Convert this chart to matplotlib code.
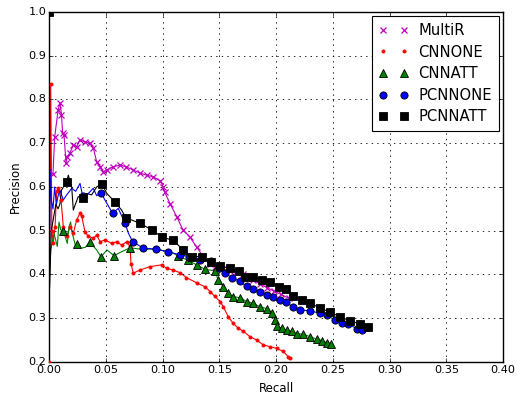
import matplotlib
matplotlib.use("Agg")
import matplotlib.pyplot as plt

plt.style.use("classic")
plt.rcParams["font.family"] = ["DejaVu Sans"]

# ---------------- data ----------------
multir_recall = [0.0035, 0.005, 0.008, 0.0097, 0.011, 0.012, 0.0132, 0.015, 0.016, 0.0185,
                 0.0214, 0.0244, 0.027, 0.0317, 0.036, 0.039, 0.042, 0.045, 0.0477, 0.051,
                 0.0565, 0.0626, 0.068, 0.074, 0.080, 0.086, 0.092, 0.098, 0.1007, 0.102,
                 0.1066, 0.1125, 0.118, 0.124, 0.130, 0.136, 0.1419, 0.146, 0.152, 0.1595,
                 0.165, 0.171, 0.176, 0.180, 0.186, 0.192, 0.198, 0.204, 0.211]
multir_prec = [0.63, 0.714, 0.776, 0.792, 0.765, 0.723, 0.719, 0.655, 0.669, 0.678,
               0.696, 0.692, 0.707, 0.703, 0.700, 0.690, 0.657, 0.646, 0.634, 0.639,
               0.646, 0.650, 0.646, 0.639, 0.632, 0.627, 0.623, 0.614, 0.600, 0.588,
               0.562, 0.532, 0.502, 0.486, 0.463, 0.440, 0.425, 0.418, 0.412, 0.408,
               0.405, 0.400, 0.393, 0.387, 0.378, 0.370, 0.362, 0.355, 0.346]

cnnone_recall = [0.0, 0.0015, 0.0025, 0.0038, 0.0053, 0.0068, 0.0082, 0.0106, 0.0126, 0.0156,
                 0.0185, 0.0214, 0.0244, 0.0273, 0.0288, 0.0317, 0.0346, 0.039, 0.042, 0.045,
                 0.0493, 0.0552, 0.0596, 0.064, 0.0685, 0.0714, 0.0722, 0.0743, 0.080, 0.089,
                 0.0993, 0.1037, 0.1095, 0.1155, 0.121, 0.130, 0.1374, 0.1419, 0.146, 0.1507,
                 0.1536, 0.158, 0.1624, 0.1668, 0.1712, 0.177, 0.183, 0.1888, 0.1947, 0.2006,
                 0.2064, 0.2108, 0.2123]
cnnone_prec = [0.20, 0.835, 0.50, 0.471, 0.509, 0.590, 0.597, 0.570, 0.509, 0.487,
               0.509, 0.494, 0.525, 0.540, 0.533, 0.498, 0.487, 0.483, 0.490, 0.475,
               0.479, 0.471, 0.475, 0.467, 0.475, 0.464, 0.425, 0.403, 0.410, 0.418,
               0.422, 0.414, 0.410, 0.404, 0.393, 0.381, 0.372, 0.361, 0.350, 0.338,
               0.326, 0.303, 0.288, 0.277, 0.270, 0.258, 0.250, 0.239, 0.235, 0.231,
               0.224, 0.212, 0.208]

cnnatt_recall = [0.0, 0.0015, 0.0044, 0.0073, 0.0088, 0.0103, 0.0126, 0.0161, 0.0176, 0.019,
                 0.0205, 0.0235, 0.0244, 0.028, 0.032, 0.036, 0.042, 0.0458, 0.051, 0.0573,
                 0.064, 0.0714, 0.080, 0.090, 0.100, 0.107, 0.114, 0.1227, 0.130, 0.1374,
                 0.1463, 0.149, 0.1536, 0.158, 0.1624, 0.1683, 0.1742, 0.180, 0.1859, 0.1918,
                 0.1962, 0.1991, 0.2006, 0.205, 0.2094, 0.2138, 0.2182, 0.224, 0.230, 0.2359,
                 0.2403, 0.2447, 0.2485]
cnnatt_prec = [0.376, 0.456, 0.494, 0.464, 0.520, 0.502, 0.500, 0.471, 0.509, 0.520,
               0.494, 0.464, 0.470, 0.460, 0.462, 0.474, 0.456, 0.440, 0.456, 0.443,
               0.452, 0.461, 0.458, 0.458, 0.455, 0.452, 0.442, 0.432, 0.422, 0.412,
               0.408, 0.387, 0.372, 0.357, 0.349, 0.347, 0.338, 0.334, 0.326, 0.322,
               0.311, 0.296, 0.282, 0.277, 0.273, 0.270, 0.265, 0.263, 0.258, 0.252,
               0.249, 0.244, 0.242]
cnnatt_marks = [6, 12, 15, 17, 19, 21] + list(range(26, 53))

pcnnone_recall = [0.0005, 0.001, 0.002, 0.0035, 0.005, 0.0065, 0.008, 0.0097, 0.0125, 0.0156,
                  0.018, 0.020, 0.0235, 0.0273, 0.0297, 0.0346, 0.039, 0.042, 0.0458, 0.0493,
                  0.056, 0.061, 0.067, 0.070, 0.0737, 0.083, 0.094, 0.1045, 0.1154, 0.1236,
                  0.133, 0.143, 0.150, 0.155, 0.1615, 0.1683, 0.174, 0.180, 0.186, 0.1918,
                  0.1976, 0.2035, 0.2088, 0.2152, 0.2211, 0.230, 0.2388, 0.2447, 0.252, 0.2579,
                  0.2637, 0.2711, 0.2755, 0.278]
pcnnone_prec = [0.45, 0.64, 0.57, 0.55, 0.60, 0.56, 0.58, 0.593, 0.57, 0.582,
                0.59, 0.597, 0.59, 0.608, 0.579, 0.585, 0.597, 0.58, 0.587, 0.57,
                0.54, 0.551, 0.517, 0.494, 0.475, 0.460, 0.458, 0.452, 0.445, 0.441,
                0.432, 0.430, 0.415, 0.403, 0.392, 0.384, 0.373, 0.366, 0.359, 0.354,
                0.348, 0.341, 0.336, 0.326, 0.319, 0.317, 0.311, 0.307, 0.296, 0.290,
                0.287, 0.276, 0.273, 0.273]
pcnnone_marks = [14, 18, 20, 22] + list(range(24, 53))

pcnnatt_recall = [0.0, 0.0005, 0.002, 0.004, 0.006, 0.008, 0.0097, 0.011, 0.0156, 0.017,
                  0.020, 0.0214, 0.023, 0.0258, 0.030, 0.033, 0.0376, 0.042, 0.0464, 0.051,
                  0.058, 0.064, 0.068, 0.0714, 0.080, 0.0905, 0.0999, 0.1095, 0.1178, 0.1257,
                  0.1345, 0.1425, 0.1505, 0.1595, 0.1677, 0.1727, 0.180, 0.1874, 0.1947, 0.2029,
                  0.2088, 0.2152, 0.2226, 0.230, 0.2388, 0.2476, 0.2564, 0.2652, 0.274, 0.2813,
                  0.284]
pcnnatt_prec = [1.0, 0.37, 0.50, 0.53, 0.56, 0.55, 0.562, 0.593, 0.612, 0.627,
                0.600, 0.547, 0.559, 0.578, 0.574, 0.585, 0.582, 0.600, 0.607, 0.585,
                0.566, 0.547, 0.528, 0.526, 0.517, 0.502, 0.485, 0.478, 0.457, 0.441,
                0.441, 0.429, 0.419, 0.414, 0.408, 0.395, 0.395, 0.387, 0.383, 0.372,
                0.366, 0.350, 0.342, 0.335, 0.323, 0.314, 0.303, 0.294, 0.287, 0.280,
                0.280]
pcnnatt_marks = [0, 8, 14, 18, 20, 22] + list(range(24, 50))

x_ticks = [0.00, 0.05, 0.10, 0.15, 0.20, 0.25, 0.30, 0.35, 0.40]
y_ticks = [0.2, 0.3, 0.4, 0.5, 0.6, 0.7, 0.8, 0.9, 1.0]

# ---------------- plot ----------------
fig = plt.figure(figsize=(5.17, 3.98), dpi=100, facecolor="white")
ax = fig.add_axes([0.0948, 0.0905, 0.8782, 0.8795])
ax.set_facecolor("white")

lw = 0.8
series = [
    ("MultiR", multir_recall, multir_prec, "m", "x", 3.8, None, "m"),
    ("CNNONE", cnnone_recall, cnnone_prec, "r", ".", 4.5, None, "r"),
    ("CNNATT", cnnatt_recall, cnnatt_prec, "g", "^", 5.2, cnnatt_marks, "k"),
    ("PCNNONE", pcnnone_recall, pcnnone_prec, "b", "o", 5.2, pcnnone_marks, "k"),
    ("PCNNATT", pcnnatt_recall, pcnnatt_prec, "k", "s", 5.4, pcnnatt_marks, "k"),
]
for label, r, p, c, m, ms, me, mec in series:
    ax.plot(r, p, color=c, lw=lw, zorder=2)
    ax.plot(r, p, linestyle="none", marker=m, color=c, markersize=ms,
            markevery=me, markeredgecolor=mec, markeredgewidth=0.6 if m != "x" else 0.9,
            label=label, zorder=3)

ax.set_xlim(0, 0.40)
ax.set_ylim(0.2, 1.0)
ax.set_xticks(x_ticks)
ax.set_yticks(y_ticks)
ax.set_xticklabels(["%.2f" % v for v in x_ticks], fontsize=8.1)
ax.set_yticklabels(["%.1f" % v for v in y_ticks], fontsize=8.1)
ax.set_xlabel("Recall", fontsize=8.5)
ax.set_ylabel("Precision", fontsize=8.5)
ax.grid(True, color="k", linestyle=":", linewidth=0.6)
ax.tick_params(direction="in", length=3, top=True, right=True, pad=2)

leg = ax.legend(loc="upper right", numpoints=2, fontsize=10.6, frameon=True,
                fancybox=False, borderaxespad=0.3, handlelength=2.0,
                labelspacing=0.45, handletextpad=0.7, borderpad=0.45)
leg.get_frame().set_edgecolor("k")
leg.get_frame().set_linewidth(0.8)

fig.savefig("out.png", dpi=100, facecolor="white")
